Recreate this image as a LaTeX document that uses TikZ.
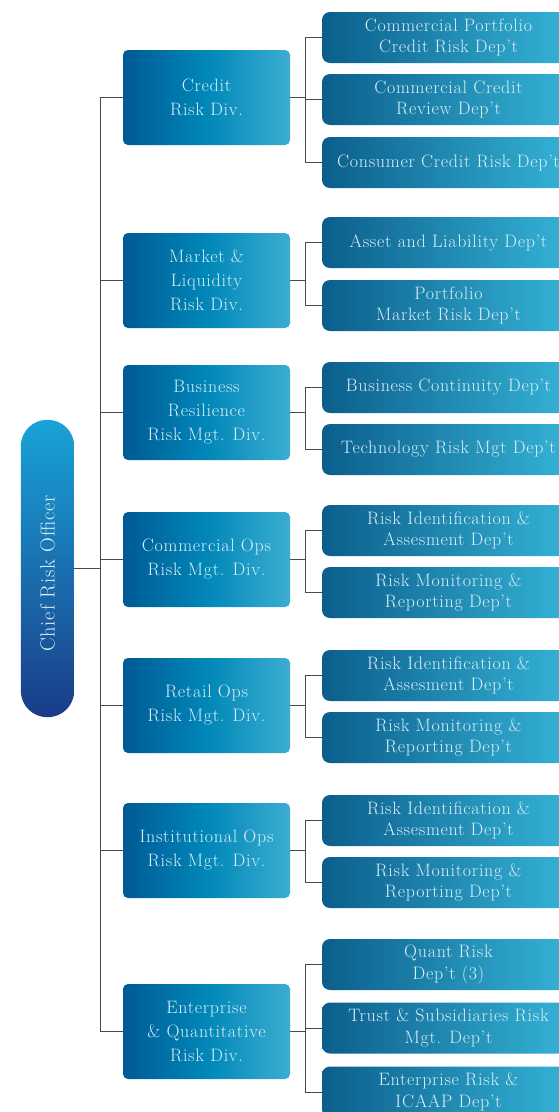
\documentclass[tikz,border=0pt]{standalone}
\usepackage{fontspec}
\setmainfont{Latin Modern Roman}[LetterSpace=4]
\usetikzlibrary{calc}
\definecolor{divL}{HTML}{005A95}
\definecolor{divM}{HTML}{0087B8}
\definecolor{divR}{HTML}{3BADD1}
\definecolor{depL}{HTML}{0B5E8C}
\definecolor{depR}{HTML}{36B5D8}
\definecolor{croT}{HTML}{19A3D8}
\definecolor{croB}{HTML}{1A3C88}
\definecolor{txt}{HTML}{D9EEF6}
\definecolor{ln}{HTML}{4A4A4A}
\tikzset{
  divbox/.style={rounded corners=5pt, left color=divL, right color=divR, middle color=divM,
    minimum width=167pt, minimum height=95pt, inner sep=0pt, text=txt, align=center,
    font=\fontsize{18}{24}\selectfont},
  depbox/.style={rounded corners=8pt, left color=depL, right color=depR,
    minimum width=253pt, minimum height=51pt, inner sep=0pt, text=txt, align=center,
    font=\fontsize{18}{21.5}\selectfont},
  crobox/.style={minimum width=53pt, minimum height=297pt, inner sep=0pt},
  crotext/.style={text=txt, rotate=90, font=\fontsize{20.5}{24}\selectfont},
  conn/.style={draw=ln, line width=1pt}
}
\begin{document}
\begin{tikzpicture}[x=1pt,y=-1pt]
\clip (0,0) rectangle (559,1112);
\fill[white] (0,0) rectangle (559,1112);
\coordinate (tk) at (100,0);
\coordinate (bx) at (305,0);
% CRO
\node[crobox] (cro) at (47.5,568.5) {};
\begin{scope}
  \clip[rounded corners=26.4pt] (cro.south west) rectangle (cro.north east);
  \shade[top color=croT, bottom color=croB] (cro.south west) rectangle (cro.north east);
\end{scope}
\node[crotext] (crot) at ($(cro.center)+(0,5)$) {Chief Risk Officer};
% divisions
\node[divbox] (d1) at (206.5,97.5) {Credit\\Risk Div.};
\node[divbox] (d2) at (206.5,280.5) {Market \&\\Liquidity\\Risk Div.};
\node[divbox] (d3) at (206.5,412.5) {Business\\Resilience\\Risk Mgt. Div.};
\node[divbox] (d4) at (206.5,559.5) {Commercial Ops\\Risk Mgt. Div.};
\node[divbox] (d5) at (206.5,705.5) {Retail Ops\\Risk Mgt. Div.};
\node[divbox] (d6) at (206.5,850.5) {Institutional Ops\\Risk Mgt. Div.};
\node[divbox] (d7) at (206.5,1031.5) {Enterprise\\\& Quantitative\\Risk Div.};
% departments
\node[depbox] (p11) at (448.5,37.5) {Commercial Portfolio\\Credit Risk Dep't};
\node[depbox] (p12) at (448.5,99.5) {Commercial Credit\\Review Dep't};
\node[depbox] (p13) at (448.5,162.5) {Consumer Credit Risk Dep't};
\node[depbox] (p21) at (448.5,242.5) {Asset and Liability Dep't};
\node[depbox] (p22) at (448.5,305.5) {Portfolio\\Market Risk Dep't};
\node[depbox] (p31) at (448.5,387.5) {Business Continuity Dep't};
\node[depbox] (p32) at (448.5,449.5) {Technology Risk Mgt Dep't};
\node[depbox] (p41) at (448.5,530.5) {Risk Identification \&\\Assesment Dep't};
\node[depbox] (p42) at (448.5,592.5) {Risk Monitoring \&\\Reporting Dep't};
\node[depbox] (p51) at (448.5,675.5) {Risk Identification \&\\Assesment Dep't};
\node[depbox] (p52) at (448.5,737.5) {Risk Monitoring \&\\Reporting Dep't};
\node[depbox] (p61) at (448.5,820.5) {Risk Identification \&\\Assesment Dep't};
\node[depbox] (p62) at (448.5,882.5) {Risk Monitoring \&\\Reporting Dep't};
\node[depbox] (p71) at (448.5,964.5) {Quant Risk\\Dep't (3)};
\node[depbox] (p72) at (448.5,1028) {Trust \& Subsidiaries Risk\\Mgt. Dep't};
\node[depbox] (p73) at (448.5,1092) {Enterprise Risk \&\\ICAAP Dep't};
% trunk
\draw[conn] (d1.west) -- (d1.west -| tk) -- (d7.west -| tk) -- (d7.west);
\foreach \d in {d2,d3,d4,d5,d6} \draw[conn] (\d.west) -- (\d.west -| tk);
\draw[conn] (cro.east) -- (cro.east -| tk);
% brackets
\draw[conn] (p11.west) -- (p11.west -| bx) -- (p13.west -| bx) -- (p13.west);
\draw[conn] (p12.west) -- (p12.west -| bx);
\draw[conn] (d1.east) -- (d1.east -| bx);
\draw[conn] (p21.west) -- (p21.west -| bx) -- (p22.west -| bx) -- (p22.west);
\draw[conn] (d2.east) -- (d2.east -| bx);
\draw[conn] (p31.west) -- (p31.west -| bx) -- (p32.west -| bx) -- (p32.west);
\draw[conn] (d3.east) -- (d3.east -| bx);
\draw[conn] (p41.west) -- (p41.west -| bx) -- (p42.west -| bx) -- (p42.west);
\draw[conn] (d4.east) -- (d4.east -| bx);
\draw[conn] (p51.west) -- (p51.west -| bx) -- (p52.west -| bx) -- (p52.west);
\draw[conn] (d5.east) -- (d5.east -| bx);
\draw[conn] (p61.west) -- (p61.west -| bx) -- (p62.west -| bx) -- (p62.west);
\draw[conn] (d6.east) -- (d6.east -| bx);
\draw[conn] (p71.west) -- (p71.west -| bx) -- (p73.west -| bx) -- (p73.west);
\draw[conn] (p72.west) -- (p72.west -| bx);
\draw[conn] (d7.east) -- (d7.east -| bx);
\end{tikzpicture}
\end{document}
